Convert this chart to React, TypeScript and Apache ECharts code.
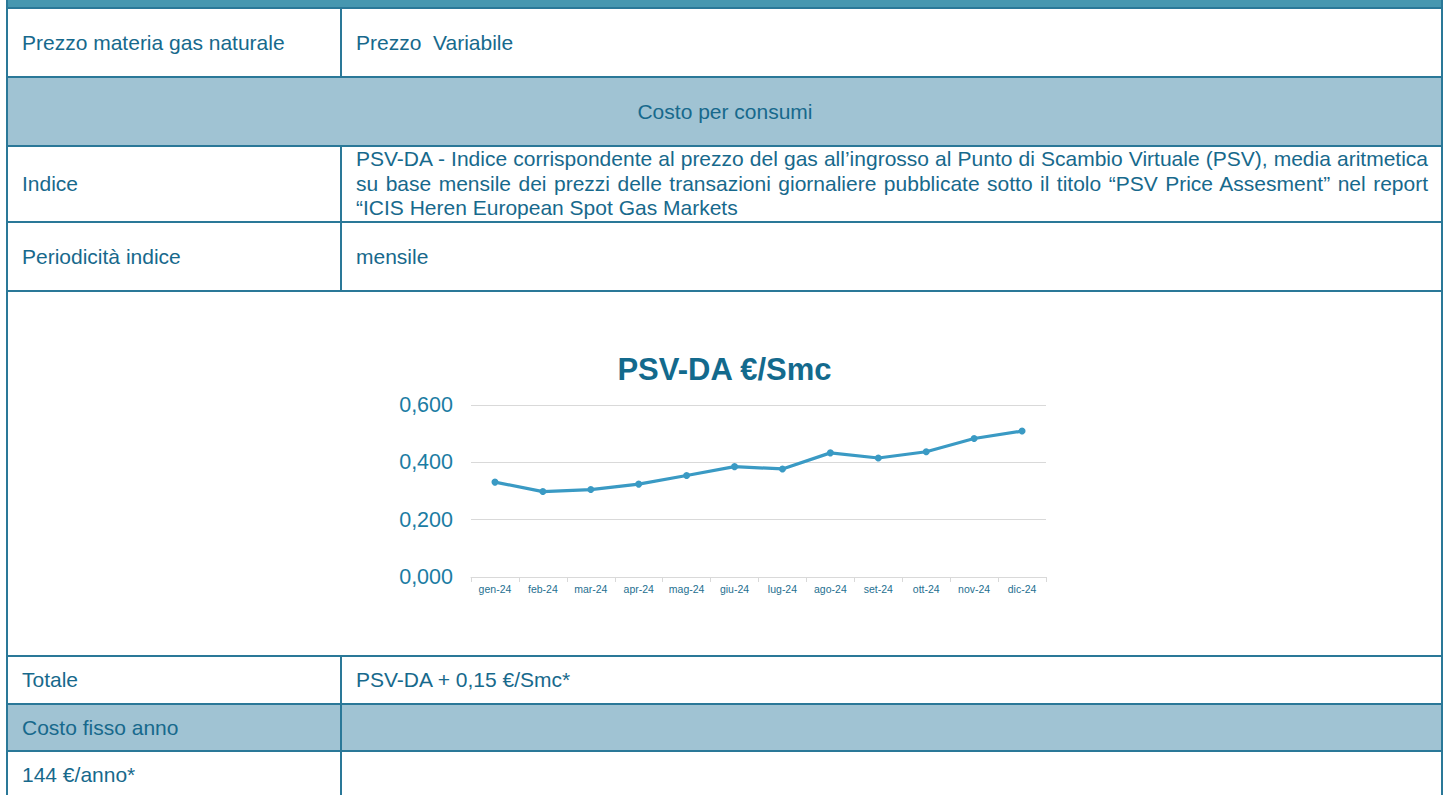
import React, { useEffect, useRef } from "react";
import * as echarts from "echarts";

const categories = ["gen-24", "feb-24", "mar-24", "apr-24", "mag-24", "giu-24", "lug-24", "ago-24", "set-24", "ott-24", "nov-24", "dic-24"];
const values = [0.331, 0.298, 0.305, 0.324, 0.354, 0.385, 0.377, 0.433, 0.415, 0.437, 0.483, 0.509];
const chartTitle = "PSV-DA €/Smc";

const row1 = ["Prezzo materia gas naturale", "Prezzo  Variabile"];
const row2 = "Costo per consumi";
const row3Label = "Indice";
const row3Lines = [
  "PSV-DA - Indice corrispondente al prezzo del gas all’ingrosso al Punto di Scambio Virtuale (PSV), media aritmetica",
  "su base mensile dei prezzi delle transazioni giornaliere pubblicate sotto il titolo “PSV Price Assesment” nel report",
  "“ICIS Heren European Spot Gas Markets",
];
const row4 = ["Periodicità indice", "mensile"];
const row6 = ["Totale", "PSV-DA + 0,15 €/Smc*"];
const row7 = "Costo fisso anno";
const row8 = "144 €/anno*";

const TEXT = "#17698c";
const BORDER = "#2a7898";
const LIGHT = "#a0c3d3";
const BAND = "#4697b0";

const Chart = () => {
  const ref = useRef<HTMLDivElement>(null);
  useEffect(() => {
    const chart = echarts.init(ref.current!, null, { renderer: "svg" });
    chart.setOption({
      animation: false,
      title: {
        text: chartTitle,
        left: "center",
        top: 57,
        textStyle: { fontFamily: "Liberation Sans, Arial", fontSize: 31, fontWeight: "bold", color: "#136a8d" },
      },
      grid: { left: 463, top: 113, width: 575, height: 172, containLabel: false },
      xAxis: {
        type: "category",
        data: categories,
        axisLine: { lineStyle: { color: "#d9d9d9", width: 1 } },
        axisTick: { show: true, length: 5, lineStyle: { color: "#d9d9d9" } },
        axisLabel: { fontFamily: "Liberation Sans, Arial", fontSize: 10.5, color: "#256f90", margin: 6 },
      },
      yAxis: {
        type: "value",
        min: 0,
        max: 0.6,
        interval: 0.2,
        axisLine: { show: false },
        axisTick: { show: false },
        splitLine: { lineStyle: { color: "#d9d9d9", width: 1 } },
        axisLabel: {
          fontFamily: "Liberation Sans, Arial",
          fontSize: 21.5,
          color: "#1b7ca3",
          margin: 18,
          formatter: (v: number) => v.toFixed(3).replace(".", ","),
        },
      },
      series: [
        {
          type: "line",
          data: values,
          symbol: "circle",
          symbolSize: 7,
          lineStyle: { color: "#3a9ac4", width: 3.2 },
          itemStyle: { color: "#3a9ac4" },
        },
      ],
    });
    return () => chart.dispose();
  }, []);
  return <div ref={ref} style={{ position: "absolute", left: 8, top: 292, width: 1433, height: 363 }} />;
};

const HLine = ({ y, x1 = 7, x2 = 1443 }: { y: number; x1?: number; x2?: number }) => (
  <div style={{ position: "absolute", left: x1, top: y - 0.75, width: x2 - x1, height: 1.5, background: BORDER }} />
);
const VLine = ({ x, y1, y2 }: { x: number; y1: number; y2: number }) => (
  <div style={{ position: "absolute", left: x - 0.75, top: y1, width: 1.5, height: y2 - y1, background: BORDER }} />
);
const Cell = ({ x, y, w, h, text, center }: { x: number; y: number; w: number; h: number; text: string; center?: boolean }) => (
  <div
    style={{
      position: "absolute",
      left: x,
      top: y,
      width: w,
      height: h,
      display: "flex",
      alignItems: "center",
      justifyContent: center ? "center" : "flex-start",
      whiteSpace: "pre",
      fontSize: 21,
      color: TEXT,
    }}
  >
    {text}
  </div>
);

export default function App() {
  useEffect(() => {
    document.body.style.margin = "0";
  }, []);
  return (
    <div
      style={{
        position: "absolute",
        left: 0,
        top: 0,
        width: 1449,
        height: 795,
        overflow: "hidden",
        background: "#fff",
        fontFamily: "'Liberation Sans', Arial, sans-serif",
      }}
    >
      <div style={{ position: "absolute", left: 7, top: 0, width: 1436, height: 8, background: BAND }} />
      <div style={{ position: "absolute", left: 7, top: 77, width: 1436, height: 69, background: LIGHT }} />
      <div style={{ position: "absolute", left: 7, top: 704, width: 1436, height: 47, background: LIGHT }} />

      <Cell x={22} y={8} w={318} h={69} text={row1[0]} />
      <Cell x={356} y={8} w={1080} h={69} text={row1[1]} />
      <Cell x={7} y={77} w={1436} h={69} text={row2} center />
      <Cell x={22} y={146} w={318} h={76} text={row3Label} />
      <div style={{ position: "absolute", left: 356, top: 147, width: 1072, fontSize: 21, color: TEXT, lineHeight: "24.5px" }}>
        {row3Lines.map((l, i) => (
          <div key={i} style={{ textAlign: "justify", textAlignLast: i < row3Lines.length - 1 ? "justify" : "left", whiteSpace: "nowrap" }}>
            {l}
          </div>
        ))}
      </div>
      <Cell x={22} y={222} w={318} h={69} text={row4[0]} />
      <Cell x={356} y={222} w={1080} h={69} text={row4[1]} />
      <Chart />
      <Cell x={22} y={656} w={318} h={48} text={row6[0]} />
      <Cell x={356} y={656} w={1080} h={48} text={row6[1]} />
      <Cell x={22} y={704} w={318} h={47} text={row7} />
      <Cell x={22} y={751} w={318} h={48} text={row8} />

      <HLine y={8} />
      <HLine y={77} />
      <HLine y={146} />
      <HLine y={222} />
      <HLine y={291} />
      <HLine y={656} />
      <HLine y={704} />
      <HLine y={751} />
      <VLine x={7} y1={0} y2={795} />
      <VLine x={1442} y1={0} y2={795} />
      <VLine x={341} y1={8} y2={77} />
      <VLine x={341} y1={146} y2={291} />
      <VLine x={341} y1={656} y2={795} />
    </div>
  );
}
